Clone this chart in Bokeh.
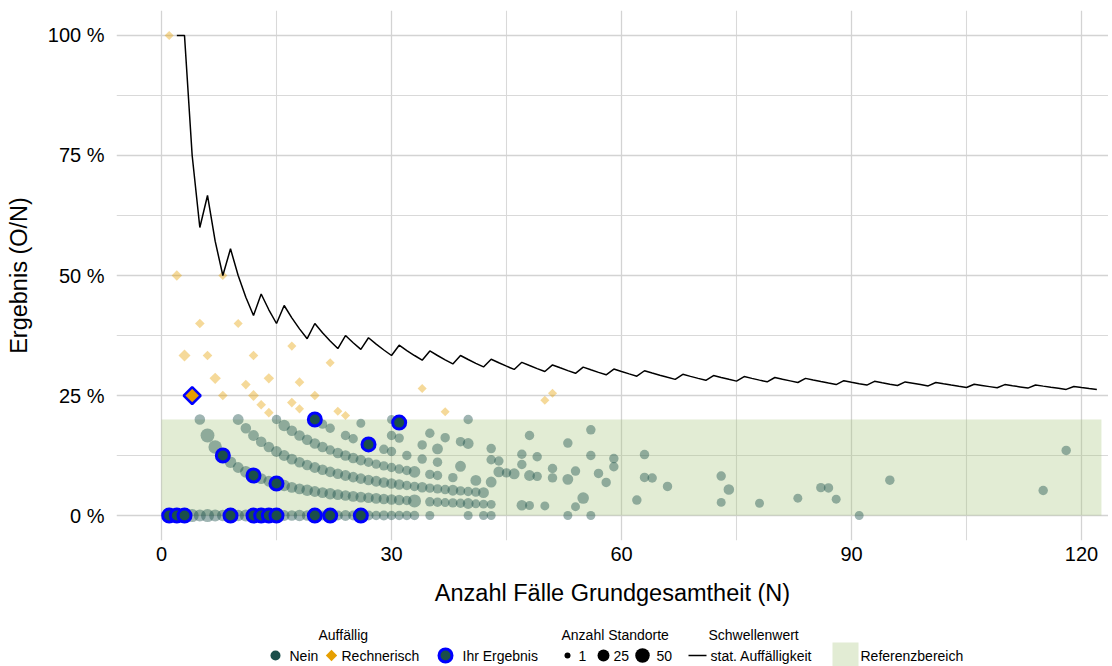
import math
from bokeh.plotting import figure
from bokeh.models import Range1d, FixedTicker
from bokeh.layouts import column
from bokeh.embed import file_html
from bokeh.resources import INLINE
from bokeh.core.properties import value

# ---------------- data ----------------
x_ticks = [0, 30, 60, 90, 120]
x_minor = [15, 45, 75, 105]
y_ticks = [0, 25, 50, 75, 100]
y_minor = [12.5, 37.5, 62.5, 87.5]
y_labels = ["0 %", "25 %", "50 %", "75 %", "100 %"]

# Referenzbereich (0 - 20 %)
ref_lo, ref_hi = 0, 20
ref_x0, ref_x1 = 0, 122.6

# Schwellenwert: numerator k of threshold k/N for N = 2 .. 122
schwelle_N = list(range(2, 123))
schwelle_k = [2, 3, 3, 3, 4, 4, 4, 5, 5, 5, 5, 6, 6, 6, 7, 7, 7, 7, 8, 8,
              8, 8, 9, 9, 9, 10, 10, 10, 10, 11, 11, 11, 11, 12, 12, 12, 12, 13, 13, 13,
              13, 14, 14, 14, 14, 15, 15, 15, 15, 16, 16, 16, 16, 17, 17, 17, 17, 18, 18, 18,
              18, 19, 19, 19, 19, 19, 20, 20, 20, 20, 21, 21, 21, 21, 22, 22, 22, 22, 23, 23,
              23, 23, 24, 24, 24, 24, 24, 25, 25, 25, 25, 26, 26, 26, 26, 27, 27, 27, 27, 28,
              28, 28, 28, 28, 29, 29, 29, 29, 30, 30, 30, 30, 31, 31, 31, 31, 31, 32, 32, 32, 32]

# "Nein" points by numerator O: N values and number of Standorte
row0_N = [1, 2, 3, 4, 5, 6, 7, 8, 9, 10, 11, 12, 13, 14, 15, 16, 17, 18, 19, 20,
          21, 22, 23, 24, 25, 26, 27, 28, 29, 30, 31, 32, 33, 35, 40, 42, 43, 53, 56, 91]
row0_n = [22, 17, 26, 35, 26, 35, 26, 22, 26, 22, 26, 22, 17, 26, 22, 17, 15, 22, 15, 17,
          12, 15, 12, 17, 12, 15, 12, 9, 12, 9, 9, 9, 9, 7, 7, 7, 7, 7, 7, 7]
row1_N = [5, 6, 7, 8, 9, 10, 11, 12, 13, 14, 15, 16, 17, 18, 19, 20, 21, 22, 23, 24,
          25, 26, 27, 28, 29, 30, 31, 32, 33, 35, 36, 37, 38, 39, 40, 41, 42, 43, 47, 48, 50, 54]
row1_n = [15, 43, 39, 26, 22, 17, 22, 26, 17, 17, 22, 22, 17, 17, 22, 17, 17, 22, 17, 15,
          17, 17, 15, 17, 15, 15, 15, 9, 35, 9, 9, 7, 9, 9, 17, 7, 7, 7, 15, 7, 7, 7]
row2_N = [10, 11, 12, 13, 14, 15, 16, 17, 18, 19, 20, 21, 22, 23, 24, 25, 26, 27, 28, 29,
          30, 31, 32, 33, 34, 35, 36, 37, 38, 39, 40, 41, 42, 55, 62, 73, 78]
row2_n = [17, 15, 17, 15, 15, 17, 17, 17, 15, 15, 17, 15, 15, 15, 17, 15, 15, 15, 17, 15,
          15, 15, 9, 9, 15, 9, 9, 9, 17, 9, 9, 9, 17, 22, 9, 7, 7]
row3_N = [15, 16, 17, 18, 19, 20, 21, 22, 23, 24, 25, 26, 27, 28, 29, 30, 31, 32, 33,
          35, 36, 38, 41, 43, 83, 88]
row3_n = [9, 22, 15, 15, 15, 15, 15, 9, 15, 15, 15, 15, 9, 9, 9, 9, 9, 9, 22,
          9, 9, 9, 17, 17, 7, 7]
row4_N = [21, 22, 24, 25, 29, 30, 32, 34, 36, 39, 44, 45, 46, 48, 49, 51, 53, 58, 66, 74]
row4_n = [9, 9, 9, 9, 9, 9, 9, 9, 9, 17, 17, 9, 17, 17, 9, 9, 17, 9, 9, 15]
row5_N = [26, 30, 31, 34, 36, 43, 44, 47, 51, 54, 57, 63, 64, 86, 87]
row5_n = [7, 9, 9, 9, 17, 9, 9, 9, 9, 9, 9, 9, 9, 9, 9]
row6_N = [30, 35, 37, 39, 40, 43, 47, 49, 59, 73, 115]
row6_n = [7, 9, 9, 9, 17, 9, 9, 9, 9, 9, 9]
row7_N = [56, 59, 95]
row7_n = [9, 9, 9]
row8_N = [40, 48, 53, 63]
row8_n = [9, 9, 9, 9]
row10_N = [56]
row10_n = [9]
row16_N = [118]
row16_n = [9]

# "Rechnerisch" auffaellige points
rech_N = [1, 2, 3, 5, 6, 7, 8, 8, 10, 11, 12, 12, 13, 14, 14, 17, 17, 18, 18, 20, 22, 23, 24, 34, 37, 50, 51]
rech_O = [1, 1, 1, 2, 2, 2, 2, 4, 4, 3, 3, 4, 3, 3, 4, 4, 6, 4, 5, 5, 7, 5, 5, 9, 8, 12, 13]
rech_n = [9, 17, 30, 12, 12, 24, 12, 9, 9, 12, 20, 12, 12, 12, 17, 12, 9, 9, 12, 12, 9, 9, 9, 9, 9, 9, 9]

# "Ihr Ergebnis"
ihr_N = [1, 2, 3, 9, 12, 13, 14, 15, 20, 22, 26, 8, 12, 15, 20, 27, 31]
ihr_O = [0, 0, 0, 0, 0, 0, 0, 0, 0, 0, 0, 1, 1, 1, 4, 4, 6]
ihr_rech_N = [4]
ihr_rech_O = [1]

# ---------------- styles ----------------
FONT = "Liberation Sans"
TEAL = "#1b4f4b"
ORANGE = "#E69F00"
BLUE = "#0000FF"
REF_COLOR = "#a5c47a"
REF_ALPHA = 0.32
FRAME_L, FRAME_R = 116, 1108   # page pixels of the plotting frame
FIG_W = 1108


def dia(n):
    return 6.0 + 8.5 * math.sqrt((n - 1) / 49.0)


rows = [(0, row0_N, row0_n), (1, row1_N, row1_n), (2, row2_N, row2_n), (3, row3_N, row3_n),
        (4, row4_N, row4_n), (5, row5_N, row5_n), (6, row6_N, row6_n), (7, row7_N, row7_n),
        (8, row8_N, row8_n), (10, row10_N, row10_n), (16, row16_N, row16_n)]
nein_x, nein_y, nein_s = [], [], []
for o, ns, cs in rows:
    for n, c in zip(ns, cs):
        nein_x.append(n)
        nein_y.append(100.0 * o / n)
        nein_s.append(dia(c))

rech_y = [100.0 * o / n for n, o in zip(rech_N, rech_O)]
rech_s = [dia(c) * 0.68 for c in rech_n]
schwelle_y = [100.0 * k / n for n, k in zip(schwelle_N, schwelle_k)]
ihr_y = [100.0 * o / n for n, o in zip(ihr_N, ihr_O)]
ihr_rech_y = [100.0 * o / n for n, o in zip(ihr_rech_N, ihr_rech_O)]

p = figure(width=FIG_W, height=616,
           x_range=Range1d(-5.87, 123.52), y_range=Range1d(-5.2, 105.2),
           output_backend="svg", toolbar_location=None,
           min_border_left=FRAME_L, min_border_right=FIG_W - FRAME_R,
           min_border_top=10, min_border_bottom=76)
p.outline_line_color = None
p.background_fill_color = "white"

for ax in (p.xaxis[0], p.yaxis[0]):
    ax.axis_line_color = None
    ax.major_tick_line_color = None
    ax.minor_tick_line_color = None
    ax.major_tick_out = 0
    ax.major_tick_in = 0
    ax.minor_tick_out = 0
    ax.minor_tick_in = 0
    ax.major_label_text_font = FONT
    ax.major_label_text_font_size = "20px"
    ax.major_label_text_color = "#000000"
    ax.axis_label_text_font = FONT
    ax.axis_label_text_font_size = "23.5px"
    ax.axis_label_text_font_style = "normal"
    ax.axis_label_text_color = "#000000"

p.xaxis.ticker = FixedTicker(ticks=x_ticks, minor_ticks=x_minor)
p.yaxis.ticker = FixedTicker(ticks=y_ticks, minor_ticks=y_minor)
p.yaxis.major_label_overrides = {t: lab for t, lab in zip(y_ticks, y_labels)}
p.xaxis.axis_label = "Anzahl Fälle Grundgesamtheit (N)"
p.yaxis.axis_label = "Ergebnis (O/N)"
p.xaxis.major_label_standoff = 6
p.xaxis.axis_label_standoff = 16
p.yaxis.major_label_standoff = 12
p.yaxis.axis_label_standoff = 13

for g in (p.xgrid[0], p.ygrid[0]):
    g.grid_line_color = "#d3d3d3"
    g.grid_line_width = 1.3
    g.minor_grid_line_color = "#d9d9d9"
    g.minor_grid_line_width = 1.1

# Referenzbereich band
p.quad(left=[ref_x0], right=[ref_x1], bottom=[ref_lo], top=[ref_hi],
       fill_color=REF_COLOR, fill_alpha=REF_ALPHA, line_color=None)

# Nein points
p.scatter(nein_x, nein_y, size=nein_s, marker="circle",
          fill_color=TEAL, fill_alpha=0.42, line_color=None)
# Rechnerisch points
p.scatter(rech_N, rech_y, size=rech_s, marker="square", angle=math.pi / 4,
          fill_color=ORANGE, fill_alpha=0.4, line_color=None)
# Schwellenwert line
p.line(schwelle_N, schwelle_y, line_color="black", line_width=1.5)
# Ihr Ergebnis
p.scatter(ihr_N, ihr_y, size=13, marker="circle",
          fill_color=TEAL, line_color=BLUE, line_width=3)
p.scatter(ihr_rech_N, ihr_rech_y, size=12, marker="square", angle=math.pi / 4,
          fill_color=ORANGE, line_color=BLUE, line_width=2.5)

# ---------------- legend (separate strip, x in page pixels) ----------------
LG_H = 50
lg = figure(width=FIG_W, height=LG_H, x_range=Range1d(FRAME_L, FRAME_R), y_range=Range1d(0, LG_H),
            output_backend="svg", toolbar_location=None,
            min_border_left=FRAME_L, min_border_right=FIG_W - FRAME_R,
            min_border_top=0, min_border_bottom=0)
lg.outline_line_color = None
lg.axis.visible = False
lg.grid.visible = False

TY, IY = 32, 11
lg.text(x=[318, 561, 708], y=[TY, TY, TY],
        text=["Auffällig", "Anzahl Standorte", "Schwellenwert"],
        text_font=value(FONT), text_font_size="14px", text_baseline="middle",
        text_align="left", text_color="#000000")
lg.text(x=[289, 341, 462, 578, 613, 656, 710, 860], y=[IY] * 8,
        text=["Nein", "Rechnerisch", "Ihr Ergebnis", "1", "25", "50",
              "stat. Auffälligkeit", "Referenzbereich"],
        text_font=value(FONT), text_font_size="14px", text_baseline="middle",
        text_align="left", text_color="#000000")
lg.scatter([275], [IY], size=10, marker="circle", fill_color=TEAL, line_color=None)
lg.scatter([331], [IY], size=8, marker="square", angle=math.pi / 4,
           fill_color=ORANGE, line_color=None)
lg.scatter([445], [IY], size=13, marker="circle", fill_color=TEAL,
           line_color=BLUE, line_width=3)
lg.scatter([567, 603, 642], [IY] * 3, size=[dia(1), dia(25), dia(50)],
           marker="circle", fill_color="black", line_color=None)
lg.line([688, 706], [IY, IY], line_color="black", line_width=1.5)
lg.quad(left=[832], right=[858], bottom=[0], top=[24],
        fill_color=REF_COLOR, fill_alpha=REF_ALPHA, line_color=None)

layout = column(p, lg, spacing=0)
open("out.html", "w").write(file_html(layout, INLINE, "Ergebnis"))
